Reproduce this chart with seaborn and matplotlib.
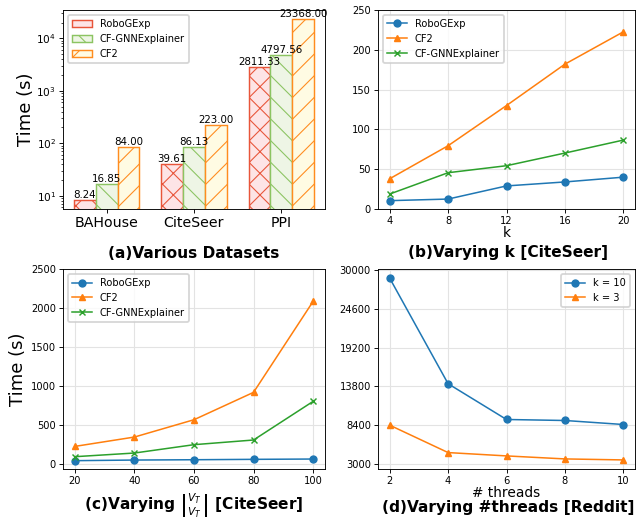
import numpy as np
import pandas as pd
import matplotlib
matplotlib.use('Agg')
import matplotlib.pyplot as plt
import seaborn as sns
from matplotlib.patches import Patch

# (a) various datasets
datasets = ['BAHouse', 'CiteSeer', 'PPI']
methods_a = ['RoboGExp', 'CF-GNNExplainer', 'CF2']
robo_a = [8.24, 39.61, 2811.33]
cfgnn_a = [16.85, 86.13, 4797.56]
cf2_a = [84.00, 223.00, 23368.00]

# (b) varying k
k_vals = [4, 8, 12, 16, 20]
robo_b = [10.5, 12.5, 29, 34, 40]
cf2_b = [38, 79.5, 130, 182, 222.6]
cfgnn_b = [18.8, 45.6, 54.4, 70.3, 86.6]

# (c) varying |V_T|
vt_vals = [20, 40, 60, 80, 100]
robo_c = [43, 51, 55, 60, 64]
cf2_c = [226, 346, 568, 919, 2085]
cfgnn_c = [94, 141, 248, 308, 803]

# (d) varying threads
threads = [2, 4, 6, 8, 10]
k10_d = [28835, 14178, 9215, 9076, 8519]
k3_d = [8427, 4623, 4160, 3742, 3603]

face_a = ['#fde4e6', '#eef5e5', '#fffbe3']
edge_a = ['#e8553a', '#8cc462', '#ff8c1f']
hatch_a = ['xx', '\\\\', '//']

TICK = 5.5
LEG = 5.5
XLAB = 7.6
YLAB = 10
CAP = 8.5

plt.rcParams.update({
    'axes.linewidth': 0.5,
    'xtick.major.size': 2.0, 'ytick.major.size': 2.0,
    'xtick.minor.size': 1.1, 'ytick.minor.size': 1.1,
    'xtick.major.width': 0.5, 'ytick.major.width': 0.5,
    'xtick.minor.width': 0.4, 'ytick.minor.width': 0.4,
    'xtick.major.pad': 1.9, 'ytick.major.pad': 1.9,
    'xtick.minor.pad': 1.9, 'ytick.minor.pad': 1.9,
    'hatch.linewidth': 0.6,
    'legend.framealpha': 0.8,
})

fig = plt.figure(figsize=(637 / 130, 522 / 130), dpi=130)
ax_a = fig.add_axes([0.0989, 0.5996, 0.4113, 0.3812])
ax_b = fig.add_axes([0.5934, 0.5996, 0.4035, 0.3812])
ax_c = fig.add_axes([0.0989, 0.1015, 0.4113, 0.3831])
ax_d = fig.add_axes([0.5934, 0.1015, 0.4035, 0.3831])

# ---- (a)
df_a = pd.DataFrame({
    'dataset': datasets * 3,
    'method': sum([[m] * 3 for m in methods_a], []),
    'time': robo_a + cfgnn_a + cf2_a,
})
sns.barplot(data=df_a, x='dataset', y='time', hue='method', hue_order=methods_a,
            palette=face_a, width=0.75, ax=ax_a, legend=False, saturation=1)
ax_a.set_yscale('log')
handles = []
for cont, fc, ec, h, m in zip(ax_a.containers, face_a, edge_a, hatch_a, methods_a):
    for p in cont.patches:
        p.set_facecolor(fc)
        p.set_edgecolor(ec)
        p.set_hatch(h)
        p.set_linewidth(0.8)
    ax_a.bar_label(cont, fmt='%.2f', fontsize=5.7, padding=0)
    handles.append(Patch(facecolor=fc, edgecolor=ec, hatch=h[0], linewidth=0.8, label=m))
ax_a.set_ylim(5.6, 34600)
ax_a.set_xlabel('')
ax_a.set_ylabel('Time (s)', fontsize=YLAB, labelpad=0.5)
ax_a.tick_params(axis='x', labelsize=7.8)
ax_a.tick_params(axis='y', labelsize=5.8)
ax_a.legend(handles=handles, loc='upper left', fontsize=LEG)


def line_panel(ax, x, series, xticks):
    for y, lab, col, mk in series:
        sns.lineplot(x=x, y=y, ax=ax, label=lab, color=col, marker=mk,
                     markersize=3.8, linewidth=0.85, markeredgecolor=col,
                     markeredgewidth=0.8)
    ax.set_xticks(xticks)
    ax.grid(True, color='#e3e3e3', linewidth=0.6)
    ax.set_axisbelow(True)
    ax.tick_params(labelsize=TICK)


# ---- (b)
line_panel(ax_b, k_vals, [
    (robo_b, 'RoboGExp', 'tab:blue', 'o'),
    (cf2_b, 'CF2', 'tab:orange', '^'),
    (cfgnn_b, 'CF-GNNExplainer', 'tab:green', 'x'),
], k_vals)
ax_b.set_ylim(0, 250)
ax_b.set_xlabel('k', fontsize=XLAB, labelpad=0)
ax_b.legend(loc='upper left', fontsize=LEG)

# ---- (c)
line_panel(ax_c, vt_vals, [
    (robo_c, 'RoboGExp', 'tab:blue', 'o'),
    (cf2_c, 'CF2', 'tab:orange', '^'),
    (cfgnn_c, 'CF-GNNExplainer', 'tab:green', 'x'),
], vt_vals)
ax_c.set_ylim(-64, 2500)
ax_c.set_ylabel('Time (s)', fontsize=YLAB, labelpad=2)
ax_c.legend(loc='upper left', fontsize=LEG)

# ---- (d)
line_panel(ax_d, threads, [
    (k10_d, 'k = 10', 'tab:blue', 'o'),
    (k3_d, 'k = 3', 'tab:orange', '^'),
], threads)
ax_d.set_yticks([3000, 8400, 13800, 19200, 24600, 30000])
ax_d.set_xlabel('# threads', fontsize=XLAB, labelpad=-0.3)
ax_d.legend(loc='upper right', fontsize=LEG)

# captions
fig.text(0.3046, 0.5153, '(a)Various Datasets', ha='center', va='center',
         fontsize=CAP, fontweight='bold')
fig.text(0.7975, 0.5172, '(b)Varying k [CiteSeer]', ha='center', va='center',
         fontsize=CAP, fontweight='bold')
fig.text(0.3046, 0.0307,
         r'(c)Varying $\left|\genfrac{}{}{0}{}{V_T}{V_T}\right|$ [CiteSeer]',
         ha='center', va='center', fontsize=CAP, fontweight='bold')
fig.text(0.7975, 0.0272, '(d)Varying #threads [Reddit]', ha='center', va='center',
         fontsize=CAP, fontweight='bold')

fig.savefig('out.png', dpi=130)
